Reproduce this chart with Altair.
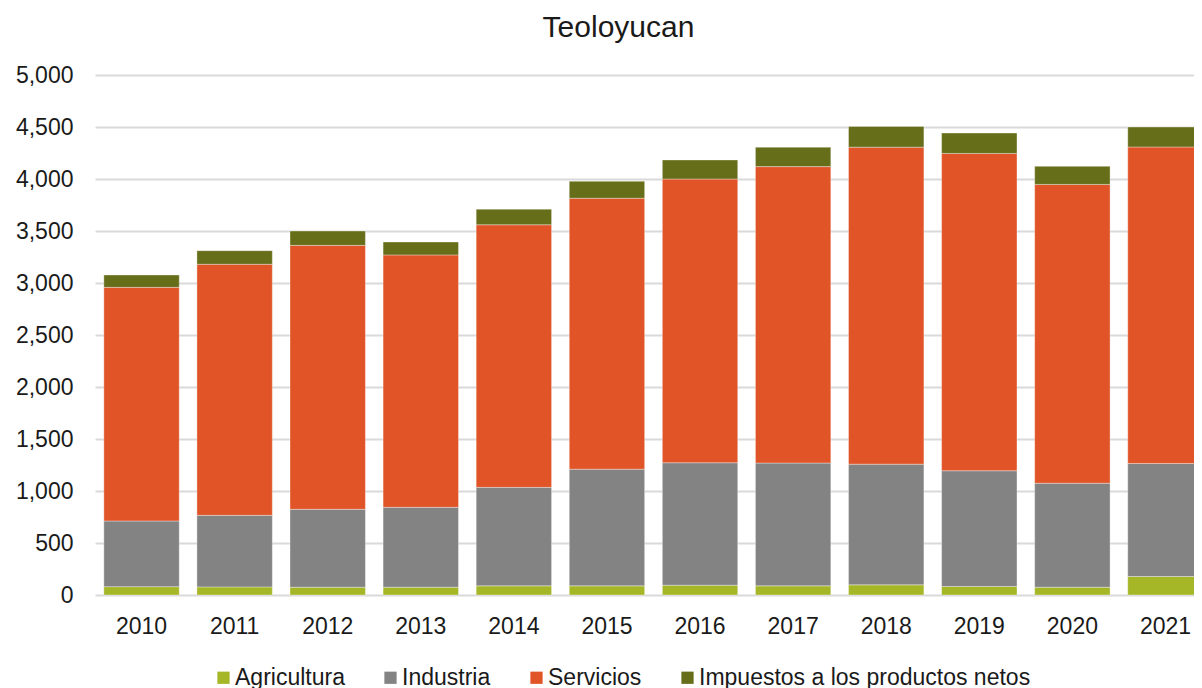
import altair as alt
import pandas as pd

years = ["2010", "2011", "2012", "2013", "2014", "2015", "2016", "2017", "2018", "2019", "2020", "2021"]
agricultura = [80, 78, 75, 75, 88, 88, 94, 88, 98, 82, 75, 178]
industria = [632, 688, 749, 768, 947, 1122, 1178, 1181, 1160, 1113, 1000, 1087]
servicios = [2246, 2414, 2538, 2427, 2525, 2605, 2728, 2850, 3048, 3051, 2873, 3043]
impuestos = [119, 131, 138, 124, 150, 163, 183, 187, 200, 196, 174, 192]

sectors = ["Agricultura", "Industria", "Servicios", "Impuestos a los productos netos"]
colors = ["#a5b627", "#838383", "#e05427", "#676e19"]

rows = []
for i, y in enumerate(years):
    for k, (s, vals) in enumerate(zip(sectors, [agricultura, industria, servicios, impuestos])):
        rows.append({"year": y, "sector": s, "value": vals[i], "order": k})
df = pd.DataFrame(rows)

FONT = "Liberation Sans"

chart = alt.Chart(df).mark_bar(stroke="#ffffff", strokeWidth=1, strokeOpacity=0.35).encode(
    x=alt.X("year:N", sort=years, title=None,
            scale=alt.Scale(paddingInner=0.19, paddingOuter=0.095, range=[0, 1117]),
            axis=alt.Axis(labelAngle=0, labelFontSize=23, labelColor="#1a1a1a", labelFont=FONT,
                          ticks=False, domain=False, labelPadding=20, grid=False)),
    y=alt.Y("value:Q", title=None, stack="zero",
            scale=alt.Scale(domain=[0, 5000]),
            axis=alt.Axis(values=list(range(0, 5001, 500)), format=",d", labelFontSize=23,
                          labelColor="#1a1a1a", labelFont=FONT, ticks=False, domain=False,
                          labelPadding=22, gridColor="#d9d9d9", gridWidth=2)),
    color=alt.Color("sector:N", sort=sectors,
                    scale=alt.Scale(domain=sectors, range=colors),
                    legend=alt.Legend(title=None, orient="none", direction="horizontal",
                                      legendX=117, legendY=591,
                                      symbolType="square", symbolSize=150, symbolStrokeWidth=0,
                                      labelFontSize=23, labelFont=FONT, labelColor="#1a1a1a",
                                      labelLimit=600, labelOffset=0, columnPadding=34)),
    order=alt.Order("order:Q", sort="ascending"),
).properties(
    width=1099,
    height=520,
    title=alt.TitleParams("Teoloyucan", fontSize=30, font=FONT, fontWeight="normal",
                          color="#1a1a1a", anchor="middle", dx=-26, offset=21),
    autosize=alt.AutoSizeParams(type="none"),
    padding={"left": 87, "top": 67, "right": 0, "bottom": 98},
).configure_view(stroke=None)

chart.save("out.html", embed_options={"renderer": "svg", "actions": False})
